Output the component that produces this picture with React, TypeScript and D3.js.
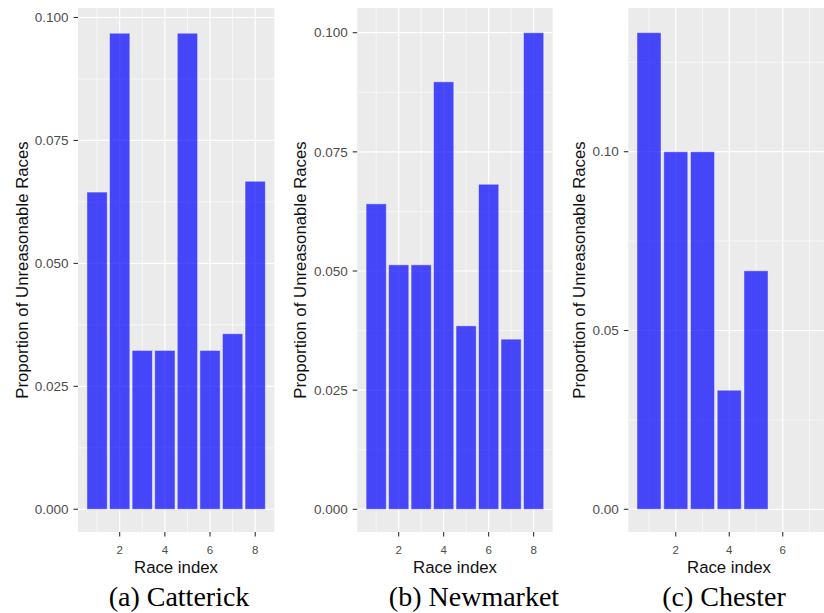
import React from "react";
import * as d3 from "d3";

// Proportion of unreasonable races by race index, per racecourse
const catterickValues = [0.0645, 0.0968, 0.0323, 0.0323, 0.0968, 0.0323, 0.0357, 0.0667];
const newmarketValues = [0.0641, 0.0513, 0.0513, 0.0897, 0.0385, 0.0682, 0.0357, 0.1];
const chesterValues = [0.1333, 0.1, 0.1, 0.0333, 0.0667];

const xTicks = [2, 4, 6, 8];
const yTicksFine = [0, 0.025, 0.05, 0.075, 0.1];
const yTicksCoarse = [0, 0.05, 0.1];

const captions = ["(a) Catterick", "(b) Newmarket", "(c) Chester"];
const xTitle = "Race index";
const yTitle = "Proportion of Unreasonable Races";

const W = 824;
const H = 613;
const PANEL_TOP = 8;
const PANEL_BOTTOM = 532;

type PanelSpec = {
  values: number[];
  left: number;
  right: number;
  xDomain: [number, number];
  yDomain: [number, number];
  yTicks: number[];
  yMinor: number[];
  xMinor: number[];
  fmt: string;
  yTitleX: number;
  xTitleX: number;
  caption: string;
  captionX: number;
};

const panels: PanelSpec[] = [
  {
    values: catterickValues,
    left: 78,
    right: 274.3,
    xDomain: [0.155, 8.845],
    yDomain: [-0.00462, 0.10193],
    yTicks: yTicksFine,
    yMinor: [0.0125, 0.0375, 0.0625, 0.0875],
    xMinor: [1, 3, 5, 7],
    fmt: ".3f",
    yTitleX: 22,
    xTitleX: 176,
    caption: captions[0],
    captionX: 179,
  },
  {
    values: newmarketValues,
    left: 357.2,
    right: 552.6,
    xDomain: [0.155, 8.845],
    yDomain: [-0.00476, 0.10518],
    yTicks: yTicksFine,
    yMinor: [0.0125, 0.0375, 0.0625, 0.0875],
    xMinor: [1, 3, 5, 7],
    fmt: ".3f",
    yTitleX: 300.5,
    xTitleX: 455,
    caption: captions[1],
    captionX: 474,
  },
  {
    values: chesterValues,
    left: 628.3,
    right: 830.5,
    xDomain: [0.226, 7.785],
    yDomain: [-0.00635, 0.14019],
    yTicks: yTicksCoarse,
    yMinor: [0.025, 0.075, 0.125],
    xMinor: [1, 3, 5, 7],
    fmt: ".2f",
    yTitleX: 579,
    xTitleX: 729,
    caption: captions[2],
    captionX: 724,
  },
];

const SANS = "'Liberation Sans', Arial, sans-serif";
const SERIF = "'Liberation Serif', 'Times New Roman', serif";

function Panel({ p, idx }: { p: PanelSpec; idx: number }) {
  const x = d3.scaleLinear().domain(p.xDomain).range([p.left, p.right]);
  const y = d3.scaleLinear().domain(p.yDomain).range([PANEL_BOTTOM, PANEL_TOP]);
  const fmt = d3.format(p.fmt);
  const clipId = `clip-${idx}`;
  const visibleXTicks = xTicks.filter((t) => x(t) <= W);
  const yMid = (PANEL_TOP + PANEL_BOTTOM) / 2;

  return (
    <g>
      <defs>
        <clipPath id={clipId}>
          <rect x={p.left} y={PANEL_TOP} width={p.right - p.left} height={PANEL_BOTTOM - PANEL_TOP} />
        </clipPath>
      </defs>
      <rect x={p.left} y={PANEL_TOP} width={p.right - p.left} height={PANEL_BOTTOM - PANEL_TOP} fill="#EBEBEB" />
      <g clipPath={`url(#${clipId})`}>
        {p.yMinor.map((v) => (
          <line key={`ym${v}`} x1={p.left} x2={p.right} y1={y(v)} y2={y(v)} stroke="#FFFFFF" strokeWidth={0.6} />
        ))}
        {p.xMinor.map((v) => (
          <line key={`xm${v}`} x1={x(v)} x2={x(v)} y1={PANEL_TOP} y2={PANEL_BOTTOM} stroke="#FFFFFF" strokeWidth={0.6} />
        ))}
        {p.yTicks.map((v) => (
          <line key={`yM${v}`} x1={p.left} x2={p.right} y1={y(v)} y2={y(v)} stroke="#FFFFFF" strokeWidth={1.2} />
        ))}
        {xTicks.map((v) => (
          <line key={`xM${v}`} x1={x(v)} x2={x(v)} y1={PANEL_TOP} y2={PANEL_BOTTOM} stroke="#FFFFFF" strokeWidth={1.2} />
        ))}
        {p.values.map((v, i) => {
          const cx = i + 1;
          return (
            <rect
              key={`b${i}`}
              x={x(cx - 0.45)}
              width={x(cx + 0.45) - x(cx - 0.45)}
              y={y(v)}
              height={y(0) - y(v)}
              fill="#0000FF"
              fillOpacity={0.7}
              stroke="#FFFFFF"
              strokeOpacity={0.45}
              strokeWidth={1}
            />
          );
        })}
      </g>
      {/* y axis */}
      {p.yTicks.map((v) => (
        <g key={`yt${v}`}>
          <line x1={p.left - 4.5} x2={p.left} y1={y(v)} y2={y(v)} stroke="#333333" strokeWidth={1.1} />
          <text
            x={p.left - 9.5}
            y={y(v)}
            dy="0.35em"
            textAnchor="end"
            fontFamily={SANS}
            fontSize={13.5}
            fill="#4D4D4D"
          >
            {fmt(v)}
          </text>
        </g>
      ))}
      {/* x axis */}
      {visibleXTicks.map((v) => (
        <g key={`xt${v}`}>
          <line x1={x(v)} x2={x(v)} y1={PANEL_BOTTOM} y2={PANEL_BOTTOM + 4.5} stroke="#333333" strokeWidth={1.1} />
          <text x={x(v)} y={554} textAnchor="middle" fontFamily={SANS} fontSize={11.5} fill="#4D4D4D">
            {v}
          </text>
        </g>
      ))}
      <text x={p.xTitleX} y={572.7} textAnchor="middle" fontFamily={SANS} fontSize={16.8} fill="#111111">
        {xTitle}
      </text>
      <text
        transform={`translate(${p.yTitleX},${yMid}) rotate(-90)`}
        dy="0.35em"
        textAnchor="middle"
        fontFamily={SANS}
        fontSize={16.8}
        fill="#111111"
      >
        {yTitle}
      </text>
      <text x={p.captionX} y={606} textAnchor="middle" fontFamily={SERIF} fontSize={28} fill="#000000">
        {p.caption}
      </text>
    </g>
  );
}

export default function App() {
  return (
    <svg width={W} height={H} style={{ display: "block", position: "absolute", left: 0, top: 0, background: "#FFFFFF" }}>
      <rect x={0} y={0} width={W} height={H} fill="#FFFFFF" />
      {panels.map((p, i) => (
        <Panel key={i} p={p} idx={i} />
      ))}
    </svg>
  );
}
